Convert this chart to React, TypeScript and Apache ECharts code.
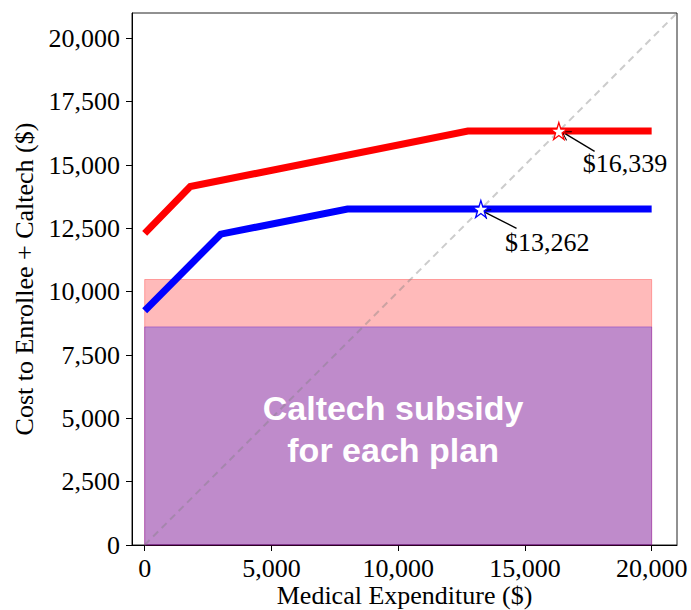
import React, { useEffect, useRef } from "react";
import * as echarts from "echarts";

// ---- data ----
const redX = [0, 1800, 12750, 20000];
const redY = [12300, 14150, 16339, 16339];
const blueX = [0, 3000, 8000, 20000];
const blueY = [9250, 12270, 13262, 13262];
const subsidyRed = 10480;
const subsidyBlue = 8610;
const subsidyRange = [0, 20000];
const starValues = [16339, 13262];
const annotTextPos = [
  [18950, 15060],
  [15880, 11950],
];
const annotArrowTail = [
  [17750, 15540],
  [14670, 12500],
];
const annotArrowHead = [
  [16600, 16230],
  [13430, 13130],
];
const subsidyTextPos = [9800, 4580];
const xTicks = [0, 5000, 10000, 15000, 20000];
const yTicks = [0, 2500, 5000, 7500, 10000, 12500, 15000, 17500, 20000];
const diag = [
  [0, 0],
  [22000, 22000],
];

const SERIF = "'Liberation Serif', 'Times New Roman', serif";
const SANS = "'Liberation Sans', Arial, sans-serif";
const STAR =
  "path://M50,0 L61.2,34.5 L97.6,34.5 L68.2,55.9 L79.4,90.5 L50,69.1 L20.6,90.5 L31.8,55.9 L2.4,34.5 L38.8,34.5 Z";
const OPEN_ARROW = "path://M0,10 L5,0 L10,10 L9.2,10.4 L5,1.8 L0.8,10.4 Z";

const fmt = (v: number) => v.toLocaleString("en-US");

export default function App() {
  const ref = useRef<HTMLDivElement>(null);
  useEffect(() => {
    document.body.style.margin = "0";
    const chart = echarts.init(ref.current!, undefined, { renderer: "svg" });
    const colors = ["#ff0000", "#0000ff"];
    chart.setOption({
      animation: false,
      grid: {
        left: 132,
        right: 14,
        top: 13,
        bottom: 65,
        containLabel: false,
        outerBoundsMode: "none",
        show: true,
        borderColor: "#222",
        borderWidth: 1,
        backgroundColor: "transparent",
      },
      xAxis: {
        type: "value",
        min: -500,
        max: 21000,
        axisLine: { show: true, onZero: false, lineStyle: { color: "#000", width: 1 } },
        axisTick: { show: true, length: 6, customValues: xTicks, lineStyle: { color: "#000" } },
        axisLabel: {
          customValues: xTicks,
          formatter: (v: number) => fmt(v),
          fontFamily: SERIF,
          fontSize: 26,
          color: "#000",
          margin: 10,
        },
        splitLine: { show: false },
        name: "Medical Expenditure ($)",
        nameLocation: "middle",
        nameMoveOverlap: false,
        nameGap: 37,
        nameTextStyle: {
          fontFamily: SERIF,
          fontSize: 26,
          lineHeight: 26,
          verticalAlign: "top",
          color: "#000",
        },
      },
      yAxis: {
        type: "value",
        min: 0,
        max: 21000,
        axisLine: { show: true, onZero: false, lineStyle: { color: "#000", width: 1 } },
        axisTick: { show: true, length: 6, customValues: yTicks, lineStyle: { color: "#000" } },
        axisLabel: {
          customValues: yTicks,
          formatter: (v: number) => fmt(v),
          fontFamily: SERIF,
          fontSize: 26,
          color: "#000",
          margin: 12,
        },
        splitLine: { show: false },
        name: "Cost to Enrollee + Caltech ($)",
        nameLocation: "middle",
        nameGap: 86,
        nameTextStyle: { fontFamily: SERIF, fontSize: 26, color: "#000" },
      },
      series: [
        {
          type: "line",
          data: [],
          z: 1,
          silent: true,
          markArea: {
            silent: true,
            itemStyle: {
              color: "rgba(255,0,0,0.27)",
              borderColor: "rgba(255,0,0,0.3)",
              borderWidth: 1,
            },
            data: [[{ coord: [subsidyRange[0], 0] }, { coord: [subsidyRange[1], subsidyRed] }]],
          },
        },
        {
          type: "line",
          data: [],
          z: 1,
          silent: true,
          markArea: {
            silent: true,
            itemStyle: {
              color: "rgba(0,0,255,0.25)",
              borderColor: "rgba(80,0,200,0.35)",
              borderWidth: 1,
            },
            data: [[{ coord: [subsidyRange[0], 0] }, { coord: [subsidyRange[1], subsidyBlue] }]],
          },
        },
        {
          type: "line",
          data: diag,
          z: 2,
          showSymbol: false,
          clip: true,
          lineStyle: { color: "rgba(128,128,128,0.4)", width: 2, type: [7, 5] },
        },
        {
          type: "line",
          data: redX.map((x, i) => [x, redY[i]]),
          z: 3,
          showSymbol: false,
          lineStyle: { color: colors[0], width: 7, join: "miter" },
        },
        {
          type: "line",
          data: blueX.map((x, i) => [x, blueY[i]]),
          z: 3,
          showSymbol: false,
          lineStyle: { color: colors[1], width: 7, join: "miter" },
        },
        {
          type: "line",
          data: [],
          z: 4,
          markLine: {
            silent: true,
            symbol: ["none", OPEN_ARROW],
            symbolSize: [11, 9],
            label: { show: false },
            itemStyle: { color: "#000" },
            lineStyle: { color: "#000", width: 1.3, type: "solid" },
            data: starValues.map((v, i) => [
              { coord: annotArrowTail[i] },
              { coord: annotArrowHead[i] },
            ]),
          },
        },
        {
          type: "scatter",
          z: 5,
          symbol: STAR,
          symbolSize: 17,
          data: starValues.map((v, i) => ({
            value: [v, v],
            itemStyle: { color: "#fff", borderColor: colors[i], borderWidth: 1.3, opacity: 1 },
          })),
        },
        {
          type: "scatter",
          z: 6,
          symbolSize: 1,
          itemStyle: { color: "transparent", opacity: 1 },
          data: starValues.map((v, i) => ({ value: annotTextPos[i], name: "$" + fmt(v) })),
          label: {
            show: true,
            position: "inside",
            formatter: (p: any) => p.name,
            fontFamily: SERIF,
            fontSize: 26,
            color: "#000",
            opacity: 1,
          },
        },
        {
          type: "scatter",
          z: 6,
          symbolSize: 1,
          itemStyle: { color: "transparent", opacity: 1 },
          data: [{ value: subsidyTextPos, name: "Caltech subsidy\nfor each plan" }],
          label: {
            show: true,
            position: "inside",
            formatter: (p: any) => p.name,
            fontFamily: SANS,
            fontWeight: "bold",
            fontSize: 34,
            lineHeight: 42,
            align: "center",
            color: "#fff",
            opacity: 1,
          },
        },
      ],
    });
    return () => chart.dispose();
  }, []);
  return <div ref={ref} style={{ width: 691, height: 610 }} />;
}
